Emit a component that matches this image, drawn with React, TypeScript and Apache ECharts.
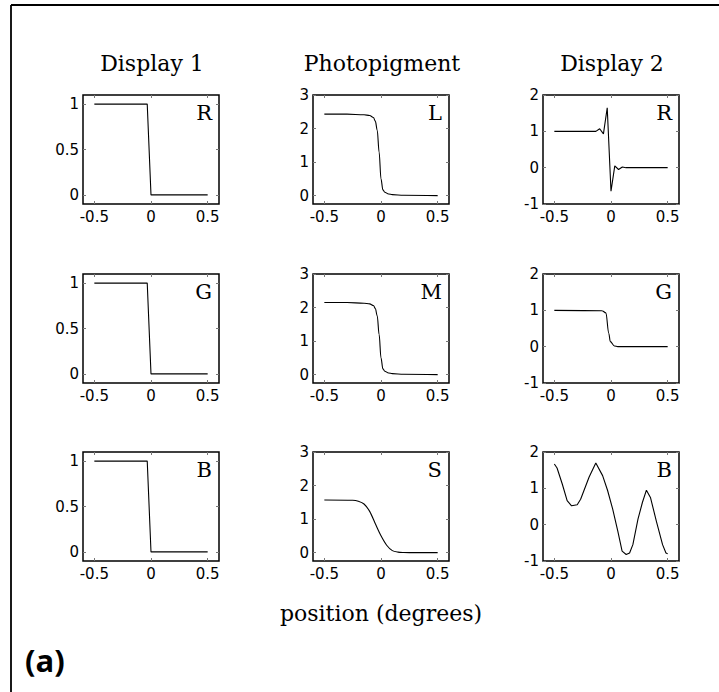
import React, { useEffect, useRef } from "react";
import * as echarts from "echarts";

// ---------- data ----------
const xTicks = [-0.5, 0, 0.5];
const d1Ticks = [0, 0.5, 1];
const pTicks = [0, 1, 2, 3];
const d2Ticks = [-1, 0, 1, 2];

const colTitles = ["Display 1", "Photopigment", "Display 2"];
const xAxisTitle = "position (degrees)";
const panelTag = "(a)";

// Display 1 (R, G, B identical steps)
const d1X = [-0.5, -0.0333, 0, 0.5];
const d1Y = [1, 1, 0, 0];

// Photopigment L
const lX = [-0.5, -0.3, -0.15, -0.1, -0.0667, -0.05, -0.0333, -0.0167, 0, 0.0167, 0.0333, 0.0667, 0.1, 0.2, 0.5];
const lY = [2.43, 2.43, 2.41, 2.39, 2.33, 2.22, 1.95, 1.3, 0.5, 0.17, 0.1, 0.05, 0.03, 0.01, 0.0];
// Photopigment M
const mX = [-0.5, -0.3, -0.15, -0.1, -0.0667, -0.05, -0.0333, -0.0167, 0, 0.0167, 0.0333, 0.0667, 0.1, 0.2, 0.5];
const mY = [2.15, 2.15, 2.13, 2.11, 2.06, 1.97, 1.75, 1.2, 0.5, 0.17, 0.1, 0.05, 0.03, 0.01, 0.0];
// Photopigment S
const sX = [-0.5, -0.25, -0.2, -0.15, -0.1, -0.05, 0, 0.05, 0.1, 0.15, 0.2, 0.25, 0.5];
const sY = [1.57, 1.56, 1.53, 1.45, 1.23, 0.86, 0.5, 0.22, 0.06, 0.015, 0.003, 0, 0];

// Display 2 R
const r2X = [-0.5, -0.1333, -0.1, -0.0667, -0.0333, 0, 0.0333, 0.0667, 0.1, 0.1333, 0.5];
const r2Y = [1, 1, 1.07, 0.93, 1.65, -0.65, 0.05, -0.05, 0.02, 0, 0];
// Display 2 G
const g2X = [-0.5, -0.08, -0.045, -0.02, -0.006, 0.03, 0.06, 0.5];
const g2Y = [1, 0.99, 0.93, 0.37, 0.14, 0.02, 0, 0];
// Display 2 B
const b2X = [-0.5, -0.476, -0.43, -0.387, -0.348, -0.298, -0.268, -0.193, -0.134, -0.074, -0.03, 0.015, 0.06, 0.098, 0.134, 0.164, 0.193, 0.238, 0.277, 0.3125, 0.348, 0.4, 0.455, 0.485, 0.5];
const b2Y = [1.67, 1.56, 1.12, 0.66, 0.52, 0.55, 0.7, 1.31, 1.7, 1.35, 0.94, 0.43, -0.18, -0.73, -0.82, -0.78, -0.55, 0.15, 0.61, 0.95, 0.75, 0.1, -0.55, -0.78, -0.8];

// ---------- layout ----------
const W = 719;
const H = 692;
const colLeft = [83, 313, 543];
const rowTop = [95, 274, 452];
const boxW = 136;
const boxH = 109;

const zip = (xs: number[], ys: number[]) => xs.map((x, i) => [x, ys[i]]);

type Panel = {
  col: number;
  row: number;
  letter: string;
  xs: number[];
  ys: number[];
  yMin: number;
  yMax: number;
  yTicks: number[];
  smooth?: number;
  mono?: boolean;
};

const panels: Panel[] = [
  { col: 0, row: 0, letter: "R", xs: d1X, ys: d1Y, yMin: -0.1, yMax: 1.1, yTicks: d1Ticks },
  { col: 0, row: 1, letter: "G", xs: d1X, ys: d1Y, yMin: -0.1, yMax: 1.1, yTicks: d1Ticks },
  { col: 0, row: 2, letter: "B", xs: d1X, ys: d1Y, yMin: -0.1, yMax: 1.1, yTicks: d1Ticks },
  { col: 1, row: 0, letter: "L", xs: lX, ys: lY, yMin: -0.25, yMax: 3, yTicks: pTicks, smooth: 0.35, mono: true },
  { col: 1, row: 1, letter: "M", xs: mX, ys: mY, yMin: -0.25, yMax: 3, yTicks: pTicks, smooth: 0.35, mono: true },
  { col: 1, row: 2, letter: "S", xs: sX, ys: sY, yMin: -0.25, yMax: 3, yTicks: pTicks, smooth: 0.3 },
  { col: 2, row: 0, letter: "R", xs: r2X, ys: r2Y, yMin: -1, yMax: 2, yTicks: d2Ticks },
  { col: 2, row: 1, letter: "G", xs: g2X, ys: g2Y, yMin: -1, yMax: 2, yTicks: d2Ticks, smooth: 0.35, mono: true },
  { col: 2, row: 2, letter: "B", xs: b2X, ys: b2Y, yMin: -1, yMax: 2, yTicks: d2Ticks },
];

const tickFont = { fontFamily: "DejaVu Sans", fontSize: 15, color: "#000" };
const serif = "DejaVu Serif";

export default function App() {
  const ref = useRef<HTMLDivElement>(null);

  useEffect(() => {
    document.body.style.margin = "0";
    if (!ref.current) return;
    const chart = echarts.init(ref.current, undefined, { renderer: "svg" });

    const grid: any[] = [];
    const xAxis: any[] = [];
    const yAxis: any[] = [];
    const series: any[] = [];
    const graphic: any[] = [];
    const tick = (vals: number[]) => ({
      show: true,
      inside: true,
      length: 3,
      lineStyle: { color: "#777" },
      customValues: vals,
    });

    panels.forEach((p, i) => {
      grid.push({
        left: colLeft[p.col],
        top: rowTop[p.row],
        width: boxW,
        height: boxH,
        show: true,
        borderColor: "#000",
        borderWidth: 1.5,
        backgroundColor: "transparent",
        containLabel: false,
      });
      const baseX = {
        type: "value",
        gridIndex: i,
        min: -0.6,
        max: 0.6,
        splitLine: { show: false },
        axisLine: { show: false, onZero: false },
      };
      xAxis.push({
        ...baseX,
        position: "bottom",
        axisTick: tick(xTicks),
        axisLabel: { show: true, margin: 5, customValues: xTicks, ...tickFont },
      });
      xAxis.push({
        ...baseX,
        position: "top",
        axisTick: tick(xTicks),
        axisLabel: { show: false },
      });
      const baseY = {
        type: "value",
        gridIndex: i,
        min: p.yMin,
        max: p.yMax,
        splitLine: { show: false },
        axisLine: { show: false, onZero: false },
      };
      yAxis.push({
        ...baseY,
        position: "left",
        axisTick: tick(p.yTicks),
        axisLabel: { show: true, margin: 4, customValues: p.yTicks, ...tickFont },
      });
      yAxis.push({
        ...baseY,
        position: "right",
        axisTick: tick(p.yTicks),
        axisLabel: { show: false },
      });
      series.push({
        type: "line",
        xAxisIndex: 2 * i,
        yAxisIndex: 2 * i,
        data: zip(p.xs, p.ys),
        showSymbol: false,
        symbol: "none",
        smooth: p.smooth ? p.smooth : false,
        smoothMonotone: p.mono ? "x" : undefined,
        lineStyle: { color: "#000", width: 1.1 },
        silent: true,
      });
      graphic.push({
        type: "text",
        x: colLeft[p.col] + boxW - 7,
        y: rowTop[p.row] + 18,
        style: {
          text: p.letter,
          font: `21px "${serif}"`,
          fill: "#000",
          align: "right",
          verticalAlign: "middle",
        },
      });
    });

    colTitles.forEach((t, c) => {
      graphic.push({
        type: "text",
        x: colLeft[c] + boxW / 2 + 1,
        y: 63,
        style: { text: t, font: `22px "${serif}"`, fill: "#000", align: "center", verticalAlign: "middle" },
      });
    });

    graphic.push({
      type: "text",
      x: colLeft[1] + boxW / 2,
      y: 613,
      style: { text: xAxisTitle, font: `22px "${serif}"`, fill: "#000", align: "center", verticalAlign: "middle" },
    });
    graphic.push({
      type: "text",
      x: 25,
      y: 660,
      style: { text: panelTag, font: `bold 31px "Open Sans"`, fill: "#000", align: "left", verticalAlign: "middle" },
    });
    graphic.push({
      type: "line",
      shape: { x1: 11, y1: 5, x2: W, y2: 5 },
      style: { stroke: "#000", lineWidth: 1.8 },
    });
    graphic.push({
      type: "line",
      shape: { x1: 11, y1: 5, x2: 11, y2: H },
      style: { stroke: "#000", lineWidth: 1.8 },
    });

    chart.setOption({
      animation: false,
      backgroundColor: "#fff",
      grid,
      xAxis,
      yAxis,
      series,
      graphic,
    });

    return () => chart.dispose();
  }, []);

  return <div ref={ref} style={{ width: W, height: H }} />;
}
